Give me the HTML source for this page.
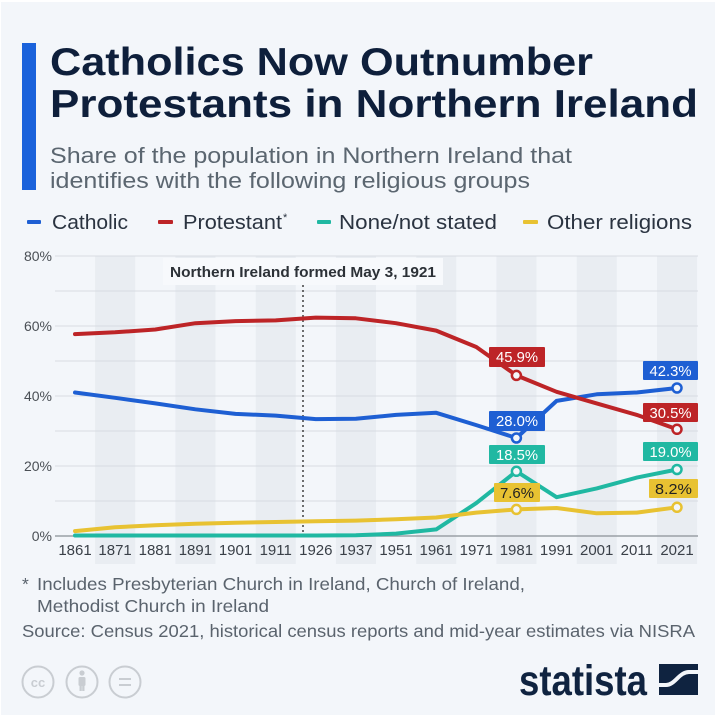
<!DOCTYPE html>
<html><head><meta charset="utf-8"><style>
html,body{margin:0;padding:0;background:#fff;}
svg{display:block;font-family:"Liberation Sans",Arial,sans-serif;}
</style></head><body>
<svg width="720" height="720" viewBox="0 0 720 720" xmlns="http://www.w3.org/2000/svg">
<rect x="0" y="0" width="720" height="720" fill="#ffffff"/>
<rect x="1" y="2" width="714" height="713" fill="#f3f6fa"/>
<!-- title -->
<rect x="22" y="43" width="14" height="147" fill="#1a62db"/>
<text x="50" y="75" font-size="38.5" font-weight="bold" fill="#0e1f3b" textLength="543" lengthAdjust="spacingAndGlyphs">Catholics Now Outnumber</text>
<text x="50" y="117" font-size="38.5" font-weight="bold" fill="#0e1f3b" textLength="648" lengthAdjust="spacingAndGlyphs">Protestants in Northern Ireland</text>
<text x="50" y="163" font-size="22.5" fill="#5b6670" textLength="522" lengthAdjust="spacingAndGlyphs">Share of the population in Northern Ireland that</text>
<text x="50" y="188" font-size="22.5" fill="#5b6670" textLength="480" lengthAdjust="spacingAndGlyphs">identifies with the following religious groups</text>
<!-- legend -->
<rect x="27" y="220" width="14" height="4" rx="1" fill="#1e5fd3"/>
<text x="52" y="229" font-size="20" fill="#2a3340" textLength="76" lengthAdjust="spacingAndGlyphs">Catholic</text>
<rect x="158" y="220" width="15" height="4" rx="1" fill="#bd2427"/>
<text x="183" y="229" font-size="20" fill="#2a3340" textLength="99" lengthAdjust="spacingAndGlyphs">Protestant</text>
<text x="283" y="221" font-size="11" fill="#2a3340">*</text>
<rect x="317" y="220" width="14" height="4" rx="1" fill="#20b8a2"/>
<text x="339" y="229" font-size="20" fill="#2a3340" textLength="158" lengthAdjust="spacingAndGlyphs">None/not stated</text>
<rect x="523" y="220" width="15" height="4" rx="1" fill="#e8c232"/>
<text x="547" y="229" font-size="20" fill="#2a3340" textLength="145" lengthAdjust="spacingAndGlyphs">Other religions</text>
<!-- bands -->
<g fill="#e9edf2">
<rect x="95.1" y="256" width="40.1" height="308"/>
<rect x="175.4" y="256" width="40.1" height="308"/>
<rect x="255.7" y="256" width="40.1" height="308"/>
<rect x="335.9" y="256" width="40.1" height="308"/>
<rect x="416.2" y="256" width="40.1" height="308"/>
<rect x="496.4" y="256" width="40.1" height="308"/>
<rect x="576.7" y="256" width="40.1" height="308"/>
<rect x="657" y="256" width="40.1" height="308"/>
</g>
<!-- gridlines -->
<g stroke="#d8dce2" stroke-width="1">
<line x1="55" y1="256" x2="698" y2="256"/>
<line x1="55" y1="291" x2="698" y2="291"/>
<line x1="55" y1="326" x2="698" y2="326"/>
<line x1="55" y1="361" x2="698" y2="361"/>
<line x1="55" y1="396" x2="698" y2="396"/>
<line x1="55" y1="431" x2="698" y2="431"/>
<line x1="55" y1="466" x2="698" y2="466"/>
<line x1="55" y1="501" x2="698" y2="501"/>
</g>
<line x1="55" y1="536" x2="698" y2="536" stroke="#9aa0a6" stroke-width="1.5"/>
<!-- y labels -->
<g font-size="14" fill="#4a4f55" text-anchor="end">
<text x="52" y="261">80%</text>
<text x="52" y="331">60%</text>
<text x="52" y="401">40%</text>
<text x="52" y="471">20%</text>
<text x="52" y="541">0%</text>
</g>
<!-- x labels -->
<g font-size="15" fill="#3a4048" text-anchor="middle">
<text x="75" y="555">1861</text>
<text x="115.1" y="555">1871</text>
<text x="155.3" y="555">1881</text>
<text x="195.4" y="555">1891</text>
<text x="235.5" y="555">1901</text>
<text x="275.7" y="555">1911</text>
<text x="315.8" y="555">1926</text>
<text x="355.9" y="555">1937</text>
<text x="396" y="555">1951</text>
<text x="436.2" y="555">1961</text>
<text x="476.3" y="555">1971</text>
<text x="516.4" y="555">1981</text>
<text x="556.6" y="555">1991</text>
<text x="596.7" y="555">2001</text>
<text x="636.8" y="555">2011</text>
<text x="677" y="555">2021</text>
</g>
<!-- annotation -->
<line x1="303" y1="285" x2="303" y2="536" stroke="#333" stroke-width="1.4" stroke-dasharray="2,3"/>
<rect x="163" y="258" width="280" height="27" fill="#f7f9fc"/>
<text x="170" y="277" font-size="14.5" font-weight="bold" fill="#2c3137" textLength="266" lengthAdjust="spacingAndGlyphs">Northern Ireland formed May 3, 1921</text>
<!-- series -->
<g fill="none" stroke-width="4" stroke-linejoin="round" stroke-linecap="round">
<polyline stroke="#1e5fd3" points="75,392.5 115.1,397.8 155.3,403.4 195.4,409.3 235.5,413.9 275.7,415.6 315.8,419.1 355.9,418.8 396,414.9 436.2,412.8 476.3,425.1 516.4,438 556.6,400.9 596.7,394.3 636.8,392.5 677,388"/>
<polyline stroke="#bd2427" points="75,334.1 115.1,332.3 155.3,329.5 195.4,323.2 235.5,321.1 275.7,320.4 315.8,317.6 355.9,318.3 396,323.2 436.2,330.6 476.3,347 516.4,375.4 556.6,391.8 596.7,403.4 636.8,414.9 677,429.3"/>
<polyline stroke="#20b8a2" points="75,535.5 115.1,535.5 155.3,535.5 195.4,535.5 235.5,535.5 275.7,535.5 315.8,535.5 355.9,535.3 396,533.6 436.2,529.4 476.3,503.1 516.4,471.3 556.6,497.2 596.7,488.4 636.8,477.6 677,469.5"/>
<polyline stroke="#e8c232" points="75,531.1 115.1,527.3 155.3,525.2 195.4,523.8 235.5,522.7 275.7,522 315.8,521.3 355.9,520.6 396,519.2 436.2,517.5 476.3,512.6 516.4,509.4 556.6,508 596.7,513.3 636.8,512.6 677,507.3"/>
</g>
<!-- markers -->
<g fill="#f3f6fa" stroke-width="2.5">
<circle cx="516.4" cy="375.4" r="4.5" stroke="#bd2427"/>
<circle cx="677" cy="429.3" r="4.5" stroke="#bd2427"/>
<circle cx="516.4" cy="438" r="4.5" stroke="#1e5fd3"/>
<circle cx="677" cy="388" r="4.5" stroke="#1e5fd3"/>
<circle cx="516.4" cy="471.3" r="4.5" stroke="#20b8a2"/>
<circle cx="677" cy="469.5" r="4.5" stroke="#20b8a2"/>
<circle cx="516.4" cy="509.4" r="4.5" stroke="#e8c232"/>
<circle cx="677" cy="507.3" r="4.5" stroke="#e8c232"/>
</g>
<!-- value labels -->
<g font-size="15" text-anchor="middle">
<rect x="489" y="347" width="56" height="20" rx="1" fill="#bd2427"/>
<text x="517" y="362" fill="#fff" textLength="42" lengthAdjust="spacingAndGlyphs">45.9%</text>
<rect x="489" y="411" width="56" height="20" rx="1" fill="#1e5fd3"/>
<text x="517" y="426" fill="#fff" textLength="42" lengthAdjust="spacingAndGlyphs">28.0%</text>
<rect x="489" y="445" width="56" height="19" rx="1" fill="#20b8a2"/>
<text x="517" y="460" fill="#fff" textLength="42" lengthAdjust="spacingAndGlyphs">18.5%</text>
<rect x="494" y="483" width="46" height="19" rx="1" fill="#e8c232"/>
<text x="517" y="498" fill="#222" textLength="34" lengthAdjust="spacingAndGlyphs">7.6%</text>
<rect x="643" y="361" width="55" height="19" rx="1" fill="#1e5fd3"/>
<text x="670.5" y="376" fill="#fff" textLength="42" lengthAdjust="spacingAndGlyphs">42.3%</text>
<rect x="643" y="403" width="55" height="19" rx="1" fill="#bd2427"/>
<text x="670.5" y="418" fill="#fff" textLength="42" lengthAdjust="spacingAndGlyphs">30.5%</text>
<rect x="643" y="442" width="55" height="19" rx="1" fill="#20b8a2"/>
<text x="670.5" y="457" fill="#fff" textLength="42" lengthAdjust="spacingAndGlyphs">19.0%</text>
<rect x="649" y="479" width="49" height="19" rx="1" fill="#e8c232"/>
<text x="673.5" y="494" fill="#222" textLength="37" lengthAdjust="spacingAndGlyphs">8.2%</text>
</g>
<!-- footer -->
<g font-size="17.5" fill="#5a636d">
<text x="22" y="590">*</text>
<text x="37" y="590" textLength="488" lengthAdjust="spacingAndGlyphs">Includes Presbyterian Church in Ireland, Church of Ireland,</text>
<text x="37" y="612" textLength="232" lengthAdjust="spacingAndGlyphs">Methodist Church in Ireland</text>
<text x="22" y="637" textLength="673" lengthAdjust="spacingAndGlyphs">Source: Census 2021, historical census reports and mid-year estimates via NISRA</text>
</g>
<!-- cc icons -->
<g fill="none" stroke="#c9cdd2" stroke-width="2">
<circle cx="38" cy="682" r="15.5"/>
<circle cx="82" cy="682" r="15.5"/>
<circle cx="125" cy="682" r="15.5"/>
<line x1="119" y1="679" x2="131" y2="679"/>
<line x1="119" y1="685" x2="131" y2="685"/>
</g>
<text x="38" y="687" font-size="13" font-weight="bold" fill="#c9cdd2" text-anchor="middle">cc</text>
<circle cx="82" cy="673" r="2.6" fill="#c9cdd2"/>
<rect x="78.5" y="677" width="7" height="9" rx="1.5" fill="#c9cdd2"/>
<rect x="79.5" y="684" width="2.3" height="7" fill="#c9cdd2"/>
<rect x="82.2" y="684" width="2.3" height="7" fill="#c9cdd2"/>
<!-- statista logo -->
<text x="519" y="695" font-size="43" font-weight="bold" fill="#0f2340" textLength="128" lengthAdjust="spacingAndGlyphs">statista</text>
<rect x="659" y="664" width="39" height="31" fill="#0f2340"/>
<path d="M657,685 L666,685 C675,685 679,672 689,672 L700,672" fill="none" stroke="#f3f6fa" stroke-width="4"/>
</svg>
</body></html>
